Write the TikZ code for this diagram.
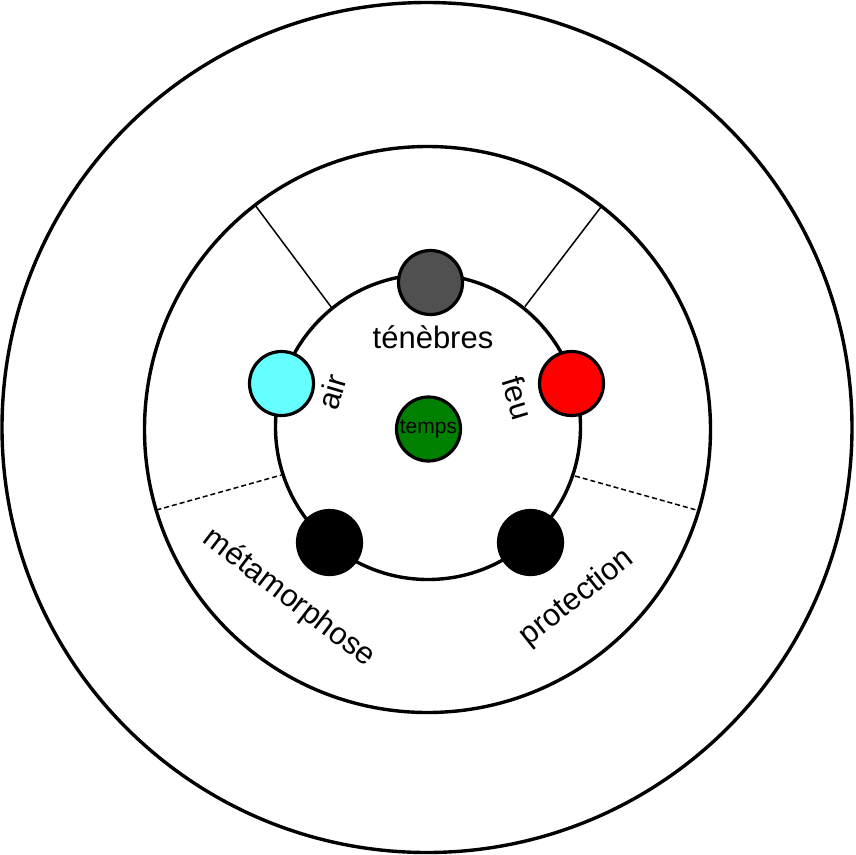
\documentclass[tikz,border=0pt]{standalone}
\usepackage{fontspec}
\setmainfont{Liberation Sans}
\begin{document}
\begin{tikzpicture}[x=1pt,y=-1pt,
  ring/.style={draw=black, line width=3.4pt},
  ball/.style={circle, draw=black, line width=3.2pt, minimum size=64pt, inner sep=0pt},
  divider/.style={draw=black, line width=1.5pt},
  dashdivider/.style={draw=black, line width=1.5pt, dash pattern=on 5pt off 3pt},
  lbl/.style={font=\fontsize{31}{31}\selectfont, inner sep=0pt}
]
\useasboundingbox[fill=white] (0,0) rectangle (855,855);
% rings
\draw[ring] (427,427.5) circle[radius=425];
\draw[ring] (427.5,429.5) circle[radius=283];
\draw[ring] (428,427) circle[radius=152.5];
% dividers
\coordinate (tlA) at (255,205);
\coordinate (tlB) at (331.5,307.5);
\coordinate (trA) at (602.5,205);
\coordinate (trB) at (525,306.5);
\coordinate (dlA) at (156.5,510);
\coordinate (dlB) at (281.5,475);
\coordinate (drA) at (575,476);
\coordinate (drB) at (700,511);
\draw[divider] (tlA) -- (tlB);
\draw[divider] (trA) -- (trB);
\draw[dashdivider] (dlA) -- (dlB);
\draw[dashdivider] (drA) -- (drB);
% balls
\node[ball, fill={rgb,255:red,80;green,80;blue,80}] (tenebres) at (430.5,282.5) {};
\node[ball, fill={rgb,255:red,102;green,255;blue,255}] (air) at (281.5,383.5) {};
\node[ball, fill=red] (feu) at (571.5,383.5) {};
\node[ball, fill=black] (meta) at (329.5,542.5) {};
\node[ball, fill=black] (prot) at (530.5,542.5) {};
\node[ball, fill={rgb,255:red,0;green,128;blue,0}, font=\fontsize{21}{21}\selectfont] (temps) at (428.5,429) {temps};
% labels
\node[lbl] (tenebresL) at (433,337) {ténèbres};
\node[lbl, rotate=73.5] (airL) at (332,392) {air};
\node[lbl, rotate=-73] (feuL) at (518,398) {feu};
\node[lbl, rotate=-37.5] (metaL) at (289,598) {métamorphose};
\node[lbl, rotate=38.5] (protL) at (577,598) {protection};
\end{tikzpicture}
\end{document}
